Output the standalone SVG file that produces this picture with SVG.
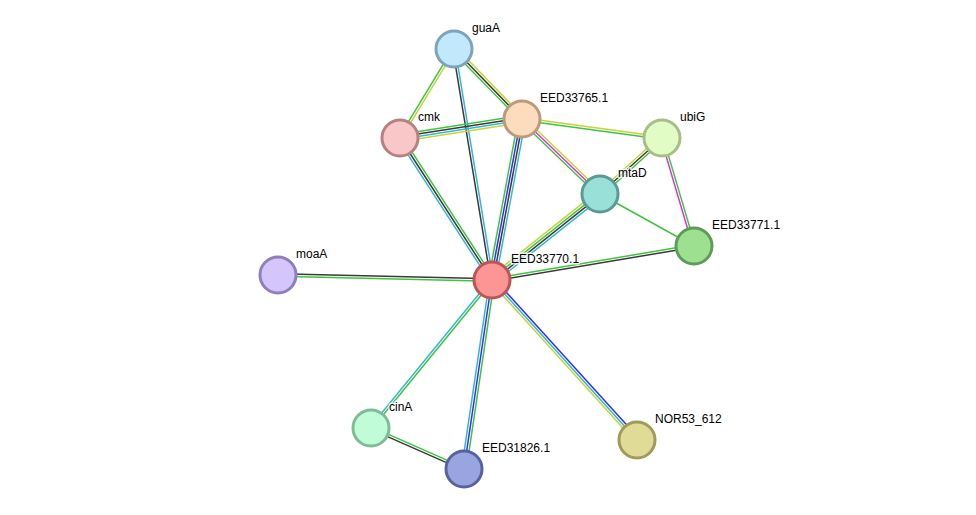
<svg xmlns="http://www.w3.org/2000/svg" width="976" height="515" viewBox="0 0 976 515">
<style>
line{stroke-width:1.5;fill:none}
.g{stroke:#3fc43f}.y{stroke:#c5d43a}.k{stroke:#3a3a3a}.c{stroke:#37b5d8}.b{stroke:#3232ee}.m{stroke:#d834d8}
circle{stroke-width:3}
text{font-family:"Liberation Sans",Arial,sans-serif;font-size:12px;fill:#000;stroke:#fff;stroke-width:3;stroke-opacity:0.8;paint-order:stroke;stroke-linejoin:round}
</style>
<rect width="976" height="515" fill="#fff"/>
<g id="connectors">
<g transform="translate(454,49) rotate(121.25)"><line class="g" x1="0" y1="1.2" x2="104.1" y2="1.2"/><line class="y" x1="0" y1="-1.2" x2="104.1" y2="-1.2"/></g>
<g transform="translate(454,49) rotate(45.8)"><line class="g" x1="0" y1="2.4" x2="97.6" y2="2.4"/><line class="k" x1="0" y1="0" x2="97.6" y2="0"/><line class="y" x1="0" y1="-2.4" x2="97.6" y2="-2.4"/></g>
<g transform="translate(454,49) rotate(80.66)"><line class="k" x1="0" y1="1.2" x2="234.1" y2="1.2"/><line class="c" x1="0" y1="-1.2" x2="234.1" y2="-1.2"/></g>
<g transform="translate(400,138) rotate(-8.85)"><line class="g" x1="0" y1="-3.6" x2="123.5" y2="-3.6"/><line class="k" x1="0" y1="-1.2" x2="123.5" y2="-1.2"/><line class="c" x1="0" y1="1.2" x2="123.5" y2="1.2"/><line class="y" x1="0" y1="3.6" x2="123.5" y2="3.6"/></g>
<g transform="translate(400,138) rotate(57.06)"><line class="c" x1="0" y1="2.4" x2="169.2" y2="2.4"/><line class="k" x1="0" y1="0" x2="169.2" y2="0"/><line class="g" x1="0" y1="-2.4" x2="169.2" y2="-2.4"/></g>
<g transform="translate(522,119) rotate(7.73)"><line class="y" x1="0" y1="-1.2" x2="141.3" y2="-1.2"/><line class="g" x1="0" y1="1.2" x2="141.3" y2="1.2"/></g>
<g transform="translate(522,119) rotate(43.87)"><line class="y" x1="0" y1="-2.4" x2="108.2" y2="-2.4"/><line class="m" x1="0" y1="0" x2="108.2" y2="0"/><line class="g" x1="0" y1="2.4" x2="108.2" y2="2.4"/></g>
<g transform="translate(522,119) rotate(100.56)"><line class="g" x1="0" y1="3.6" x2="163.8" y2="3.6"/><line class="b" x1="0" y1="1.2" x2="163.8" y2="1.2"/><line class="k" x1="0" y1="-1.2" x2="163.8" y2="-1.2"/><line class="c" x1="0" y1="-3.6" x2="163.8" y2="-3.6"/></g>
<g transform="translate(662,138) rotate(137.91)"><line class="y" x1="0" y1="2.4" x2="83.5" y2="2.4"/><line class="k" x1="0" y1="0" x2="83.5" y2="0"/><line class="g" x1="0" y1="-2.4" x2="83.5" y2="-2.4"/></g>
<g transform="translate(662,138) rotate(73.5)"><line class="m" x1="0" y1="1.2" x2="112.6" y2="1.2"/><line class="g" x1="0" y1="-1.2" x2="112.6" y2="-1.2"/></g>
<g transform="translate(600,194) rotate(28.95)"><line class="g" x1="0" y1="0" x2="107.4" y2="0"/></g>
<g transform="translate(600,194) rotate(141.47)"><line class="y" x1="0" y1="3.6" x2="138.1" y2="3.6"/><line class="g" x1="0" y1="1.2" x2="138.1" y2="1.2"/><line class="k" x1="0" y1="-1.2" x2="138.1" y2="-1.2"/><line class="c" x1="0" y1="-3.6" x2="138.1" y2="-3.6"/></g>
<g transform="translate(694,246) rotate(170.45)"><line class="g" x1="0" y1="1.2" x2="204.8" y2="1.2"/><line class="k" x1="0" y1="-1.2" x2="204.8" y2="-1.2"/></g>
<g transform="translate(278,275) rotate(1.34)"><line class="k" x1="0" y1="-1.2" x2="214.1" y2="-1.2"/><line class="g" x1="0" y1="1.2" x2="214.1" y2="1.2"/></g>
<g transform="translate(492,280) rotate(129.27)"><line class="c" x1="0" y1="1.2" x2="191.2" y2="1.2"/><line class="g" x1="0" y1="-1.2" x2="191.2" y2="-1.2"/></g>
<g transform="translate(492,280) rotate(98.43)"><line class="c" x1="0" y1="2.4" x2="191.1" y2="2.4"/><line class="b" x1="0" y1="0" x2="191.1" y2="0"/><line class="g" x1="0" y1="-2.4" x2="191.1" y2="-2.4"/></g>
<g transform="translate(492,280) rotate(47.81)"><line class="b" x1="0" y1="-2.4" x2="215.9" y2="-2.4"/><line class="c" x1="0" y1="0" x2="215.9" y2="0"/><line class="y" x1="0" y1="2.4" x2="215.9" y2="2.4"/></g>
<g transform="translate(371,428) rotate(23.79)"><line class="g" x1="0" y1="-1.2" x2="101.6" y2="-1.2"/><line class="k" x1="0" y1="1.2" x2="101.6" y2="1.2"/></g>
</g>
<g id="guaA"><circle cx="454" cy="49" r="18" fill="#c1e8fb" stroke="#7fa3bb"/><text x="472" y="32">guaA</text></g>
<g id="EED33765.1"><circle cx="522" cy="119" r="18" fill="#fddcbd" stroke="#b99b7d"/><text x="540" y="102">EED33765.1</text></g>
<g id="cmk"><circle cx="400" cy="138" r="18" fill="#f8c8c8" stroke="#b88181"/><text x="418" y="121">cmk</text></g>
<g id="ubiG"><circle cx="662" cy="138" r="18" fill="#e1fcc5" stroke="#a6bf89"/><text x="680" y="121">ubiG</text></g>
<g id="mtaD"><circle cx="600" cy="194" r="18" fill="#98e0d8" stroke="#5a9b94"/><text x="618" y="177">mtaD</text></g>
<g id="EED33771.1"><circle cx="694" cy="246" r="18" fill="#9de090" stroke="#5e9b58"/><text x="712" y="229">EED33771.1</text></g>
<g id="moaA"><circle cx="278" cy="275" r="18" fill="#d4c5fc" stroke="#907fbb"/><text x="296" y="258">moaA</text></g>
<g id="EED33770.1"><circle cx="492" cy="280" r="18" fill="#fd9595" stroke="#bb5656"/><text x="511" y="263">EED33770.1</text></g>
<g id="cinA"><circle cx="371" cy="428" r="18" fill="#c1fcd9" stroke="#80bb98"/><text x="389" y="411">cinA</text></g>
<g id="EED31826.1"><circle cx="464" cy="469" r="18" fill="#99a5e0" stroke="#58629f"/><text x="482" y="452">EED31826.1</text></g>
<g id="NOR53_612"><circle cx="637" cy="440" r="18" fill="#e0dc98" stroke="#a09c58"/><text x="655" y="423">NOR53_612</text></g>
</svg>
